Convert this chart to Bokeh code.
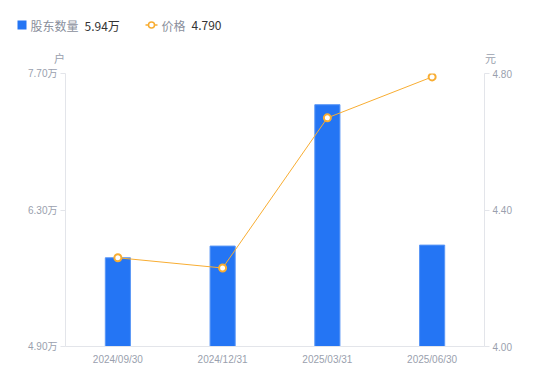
from bokeh.plotting import figure
from bokeh.models import Range1d, LinearAxis, FixedTicker, CustomJSTickFormatter
from bokeh.core.properties import value
from bokeh.embed import file_html
from bokeh.resources import INLINE

dates = ["2024/09/30", "2024/12/31", "2025/03/31", "2025/06/30"]
holders = [5.81, 5.93, 7.38, 5.94]   # 万户
price = [4.26, 4.23, 4.67, 4.79]     # 元
left_ticks = [4.9, 6.3, 7.7]
right_ticks = [4.0, 4.4, 4.8]

FONT = "Noto Sans CJK SC"
TICKFONT = "'Liberation Sans', 'Noto Sans CJK SC'"
GRAY = "#9a9fae"
AXIS = "#e3e5ea"
BLUE = "#2475f4"
ORANGE = "#f8ad32"

W, H = 550, 381
TOP_H = 65
FL, FR, FT, FB = 65, 484, 73, 346

# ---------- header (legend + unit labels) ----------
hd = figure(width=W, height=TOP_H, x_range=Range1d(0, W), y_range=Range1d(TOP_H, 0),
            output_backend="svg", toolbar_location=None, min_border=0,
            x_axis_location=None, y_axis_location=None)
hd.grid.visible = False
hd.outline_line_color = None
hd.border_fill_color = "white"

hd.rect(x=[21.5], y=[24.5], width=9, height=9, fill_color=BLUE, line_color=None)
hd.segment(x0=[145], y0=[24.5], x1=[157], y1=[24.5], line_color=ORANGE, line_width=1.5)
hd.scatter(x=[151], y=[24.5], size=6, fill_color="white", line_color=ORANGE, line_width=1.5)
hd.text(x=[30, 161], y=[24.5, 24.5], text=["股东数量", "价格"], text_font=value(FONT),
        text_font_size="12px", text_color="#8a8f9c", text_baseline="middle", text_align="left")
hd.text(x=[84, 191], y=[24.5, 24.5], text=["%.2f万" % holders[-1], "%.3f" % price[-1]],
        text_font=value(FONT), text_font_size="12px", text_color="#333333",
        text_baseline="middle", text_align="left")
hd.text(x=[59, 490], y=[57, 57], text=["户", "元"], text_font=value(FONT),
        text_font_size="11px", text_color=GRAY, text_baseline="middle", text_align="center")

# ---------- main chart ----------
p = figure(width=W, height=H - TOP_H, x_range=dates, y_range=Range1d(4.9, 7.7),
           output_backend="svg", toolbar_location=None,
           min_border_left=FL, min_border_right=W - FR, min_border_top=FT - TOP_H,
           min_border_bottom=H - FB)
p.outline_line_color = None
p.grid.visible = False
p.background_fill_color = "white"
p.border_fill_color = "white"

p.extra_y_ranges = {"price": Range1d(4.0, 4.8)}

p.vbar(x=dates, top=holders, bottom=4.9, width=0.24, fill_color=BLUE, line_color="#5b97f6", line_width=1)
p.line(x=dates, y=price, y_range_name="price", line_color=ORANGE, line_width=1)
p.scatter(x=dates, y=price, y_range_name="price", size=7, fill_color="white", line_color=ORANGE, line_width=2)

def style(ax):
    ax.axis_line_color = AXIS
    ax.major_tick_line_color = AXIS
    ax.minor_tick_line_color = None
    ax.major_label_text_color = GRAY
    ax.major_label_text_font = TICKFONT
    ax.major_label_text_font_size = "10px"

ly = p.yaxis[0]
ly.ticker = FixedTicker(ticks=left_ticks)
ly.formatter = CustomJSTickFormatter(code="return tick.toFixed(2) + '万';")
ly.major_tick_in = 0
ly.major_tick_out = 5
ly.major_label_standoff = 3
style(ly)

ry = LinearAxis(y_range_name="price", ticker=FixedTicker(ticks=right_ticks))
ry.formatter = CustomJSTickFormatter(code="return tick.toFixed(2);")
ry.major_tick_in = 0
ry.major_tick_out = 5
ry.major_label_standoff = 3
style(ry)
p.add_layout(ry, "right")

xa = p.xaxis[0]
style(xa)
xa.major_tick_line_color = None
xa.major_tick_in = 0
xa.major_tick_out = 0
xa.major_label_standoff = 7

open("out.html", "w").write(file_html([hd, p], INLINE))
